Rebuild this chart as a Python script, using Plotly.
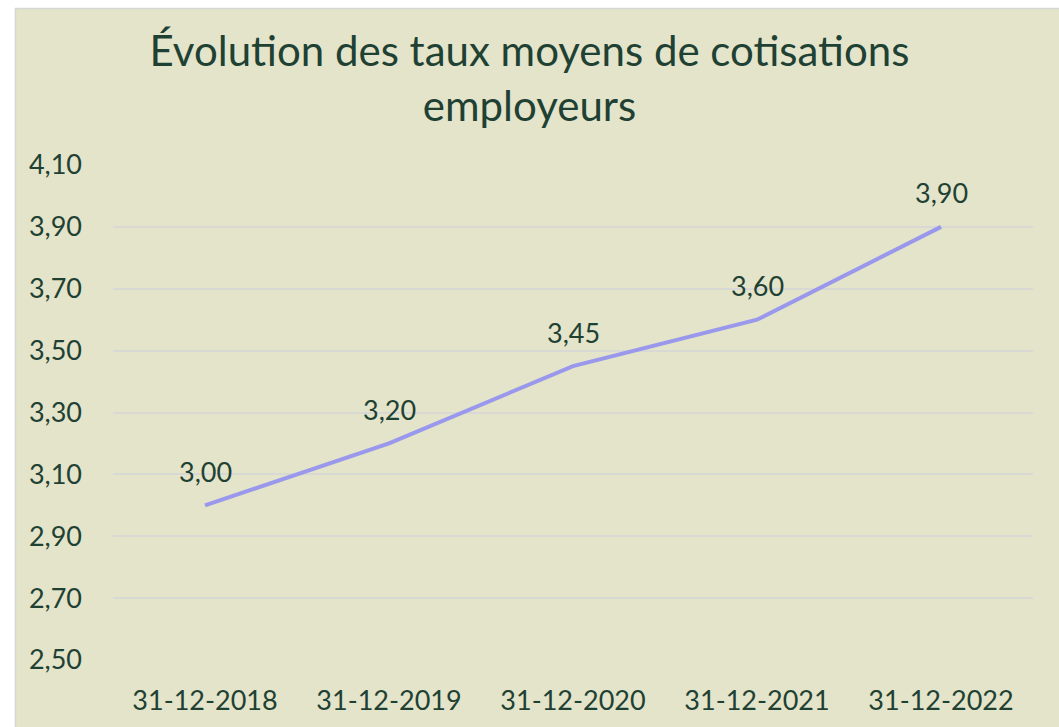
import plotly.graph_objects as go

categories = ["31-12-2018", "31-12-2019", "31-12-2020", "31-12-2021", "31-12-2022"]
values = [3.00, 3.20, 3.45, 3.60, 3.90]
y_ticks = [2.50, 2.70, 2.90, 3.10, 3.30, 3.50, 3.70, 3.90, 4.10]
title_text = "Évolution des taux moyens de cotisations<br>employeurs"

TXT = "#1F4133"
BG = "#E3E4C9"
FONT = "Lato, 'Open Sans', sans-serif"

W, H = 1059, 727
L, R, T, B = 113, 26, 165, 67
pw, ph = W - L - R, H - T - B

fig = go.Figure()
fig.add_trace(go.Scatter(
    x=categories, y=values, mode="lines",
    line=dict(color="#9A98EC", width=4),
    hoverinfo="skip", showlegend=False,
))

for c, v in zip(categories, values):
    fig.add_annotation(x=c, y=v, text=f"{v:.2f}".replace(".", ","),
                       showarrow=False, yshift=34,
                       font=dict(family=FONT, size=27, color=TXT))

fig.add_shape(type="rect", xref="paper", yref="paper",
              x0=(15.5 - L) / pw, x1=1.2, y0=-0.3, y1=(H - B - 8.5) / ph,
              fillcolor=BG, line=dict(color="#D6D6D6", width=1.5), layer="below")

fig.update_layout(
    width=W, height=H,
    margin=dict(l=L, r=R, t=T, b=B),
    paper_bgcolor="white", plot_bgcolor="rgba(0,0,0,0)",
    separators=", ",
    font=dict(family=FONT, color=TXT, size=27),
    title=dict(text=title_text, x=0.5, xref="container", xanchor="center",
               y=1 - 66 / H, yref="container", yanchor="middle",
               font=dict(family=FONT, size=42, color=TXT)),
    xaxis=dict(type="category", range=[-0.5, 4.5], showgrid=False, zeroline=False,
               showline=False, ticks="", ticklabelstandoff=22,
               tickfont=dict(family=FONT, size=27, color=TXT)),
    yaxis=dict(range=[2.5, 4.1], tickvals=y_ticks, tickformat=".2f",
               showgrid=True, gridcolor="#D8D8D5", gridwidth=1.5, zeroline=False,
               showline=False, ticks="", ticklabelstandoff=30,
               tickfont=dict(family=FONT, size=27, color=TXT)),
)

fig.write_html("out.html", config={"displayModeBar": False},
               post_script="document.body.style.margin='0';document.body.style.overflow='hidden';")
